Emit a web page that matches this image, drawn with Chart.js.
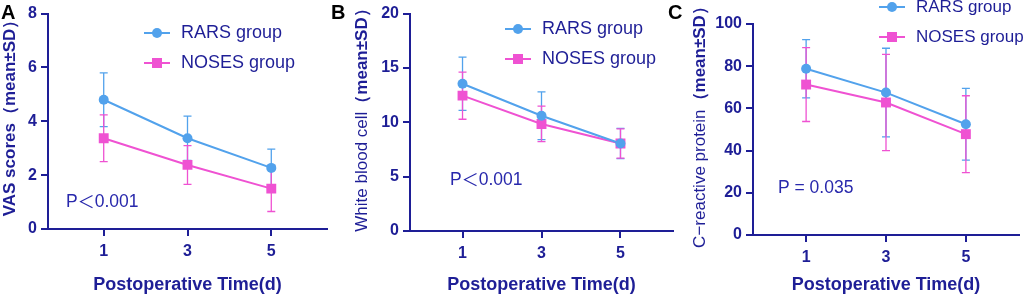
<!DOCTYPE html>
<html>
<head>
<meta charset="utf-8">
<script src="https://cdn.jsdelivr.net/npm/chart.js@4.4.1/dist/chart.umd.min.js"></script>
<style>
  body { margin: 0; background: #fff; width: 1026px; height: 300px; overflow: hidden; position: relative; }
  canvas.panel { position: absolute; top: 0; }
  .tag { position: absolute; top: 1px; font: bold 20px "Liberation Sans", Arial, sans-serif; color: #000; }
</style>
</head>
<body>
<canvas id="chartA" class="panel" width="340" height="300" style="left:0"></canvas>
<canvas id="chartB" class="panel" width="340" height="300" style="left:340px"></canvas>
<canvas id="chartC" class="panel" width="346" height="300" style="left:680px"></canvas>
<div class="tag" style="left:1px">A</div>
<div class="tag" style="left:331px">B</div>
<div class="tag" style="left:668px">C</div>
<script>
// postoperative days
const days = [1, 3, 5];

// A: VAS scores
const vasRars = [4.8, 3.37, 2.27];
const vasRarsSd = [1.0, 0.82, 0.7];
const vasNoses = [3.37, 2.38, 1.5];
const vasNosesSd = [0.87, 0.72, 0.85];

// B: white blood cell
const wbcRars = [13.55, 10.6, 8.05];
const wbcRarsSd = [2.45, 2.2, 1.4];
const wbcNoses = [12.45, 9.85, 8.05];
const wbcNosesSd = [2.17, 1.63, 1.35];

// C: C-reactive protein
const crpRars = [78.8, 67.5, 52.5];
const crpRarsSd = [13.8, 21, 17];
const crpNoses = [71.3, 62.8, 47.8];
const crpNosesSd = [17.5, 22.8, 18.2];

const BLUE = "#52a2ec";
const PINK = "#ef52d2";
const NAVY = "#1e1e96";
const FONT = '"Liberation Sans", Arial, sans-serif';
const CJK = '"Noto Sans CJK SC", sans-serif';

// draws pieces of text one after another, each with its own font
function drawParts(ctx, parts, x, y, centered) {
  let total = 0;
  const widths = parts.map((p) => { ctx.font = p.font; const w = ctx.measureText(p.text).width; total += w; return w; });
  let cx = centered ? x - total / 2 : x;
  ctx.textAlign = "left";
  parts.forEach((p, i) => { ctx.font = p.font; ctx.fillText(p.text, cx, y); cx += widths[i]; });
}

const extras = {
  id: "panelExtras",
  beforeDatasetsDraw(chart) {
    const ctx = chart.ctx;
    const y = chart.scales.y;
    chart.data.datasets.forEach((ds, di) => {
      const meta = chart.getDatasetMeta(di);
      ctx.save();
      ctx.strokeStyle = ds.borderColor;
      ctx.lineWidth = 1.3;
      meta.data.forEach((pt, i) => {
        const v = ds.data[i].y, sd = ds.sd[i];
        const top = y.getPixelForValue(v + sd);
        const bot = y.getPixelForValue(v - sd);
        ctx.beginPath();
        ctx.moveTo(pt.x, top); ctx.lineTo(pt.x, bot);
        ctx.moveTo(pt.x - 4, top); ctx.lineTo(pt.x + 4, top);
        ctx.moveTo(pt.x - 4, bot); ctx.lineTo(pt.x + 4, bot);
        ctx.stroke();
      });
      ctx.restore();
    });
  },
  afterDraw(chart, args, o) {
    const ctx = chart.ctx;
    ctx.save();
    ctx.fillStyle = NAVY;
    ctx.textBaseline = "middle";

    // y title, mixed weights
    ctx.save();
    ctx.translate(o.yTitleX, o.yTitleY);
    ctx.rotate(-Math.PI / 2);
    drawParts(ctx, o.yTitle.map((p) => ({ text: p.text, font: `${p.bold ? "bold " : ""}17px ${FONT}` })), 0, 0, true);
    ctx.restore();

    // legend
    chart.data.datasets.forEach((ds, i) => {
      const ly = o.legendY[i];
      ctx.strokeStyle = ds.borderColor;
      ctx.fillStyle = ds.borderColor;
      ctx.lineWidth = 2;
      ctx.beginPath();
      ctx.moveTo(o.legendX, ly); ctx.lineTo(o.legendX + 26, ly);
      ctx.stroke();
      const mx = o.legendX + 13;
      if (ds.pointStyle === "rect") {
        ctx.fillRect(mx - 5, ly - 5, 10, 10);
      } else {
        ctx.beginPath(); ctx.arc(mx, ly, 5, 0, Math.PI * 2); ctx.fill();
      }
      ctx.fillStyle = NAVY;
      ctx.font = `${o.legendSize}px ${FONT}`;
      ctx.textAlign = "left";
      ctx.fillText(ds.label, o.legendX + 37, ly);
    });

    // p value
    ctx.fillStyle = "#2828ac";
    drawParts(ctx, o.pText.map((t) => ({ text: t, font: t === "＜" ? `17px ${CJK}` : `17.5px ${FONT}` })), o.pX, o.pY, false);
    ctx.restore();
  },
};

function makeChart(id, p) {
  const tickFont = { family: FONT, size: 16, weight: "bold" };
  return new Chart(document.getElementById(id), {
    type: "line",
    data: {
      datasets: [
        {
          label: "RARS group",
          data: days.map((d, i) => ({ x: d, y: p.rars[i] })),
          sd: p.rarsSd,
          borderColor: BLUE,
          backgroundColor: BLUE,
          pointStyle: "circle",
          pointRadius: 5,
          pointBorderWidth: 0,
          borderWidth: 2,
        },
        {
          label: "NOSES group",
          data: days.map((d, i) => ({ x: d, y: p.noses[i] })),
          sd: p.nosesSd,
          borderColor: PINK,
          backgroundColor: PINK,
          pointStyle: "rect",
          pointRadius: 7,
          pointBorderWidth: 0,
          borderWidth: 2,
        },
      ],
    },
    options: {
      responsive: false,
      animation: false,
      devicePixelRatio: 1,
      layout: { padding: { top: p.top, right: p.right, left: 0, bottom: 0 } },
      plugins: { legend: { display: false }, tooltip: { enabled: false }, panelExtras: p.extras },
      scales: {
        x: {
          type: "linear",
          min: -0.33,
          max: 6.33,
          afterBuildTicks: (s) => { s.ticks = days.map((v) => ({ value: v })); },
          afterFit: (s) => { s.height = 300 - p.bottom; },
          grid: { drawOnChartArea: false, drawTicks: true, tickLength: 7, color: NAVY, lineWidth: 2 },
          border: { color: NAVY, width: 2 },
          ticks: { color: NAVY, font: tickFont, padding: 6 },
          title: {
            display: true,
            text: "Postoperative Time(d)",
            color: NAVY,
            font: { family: FONT, size: 18, weight: "bold" },
            padding: { top: 0, bottom: 4 },
          },
        },
        y: {
          min: 0,
          max: p.yMax,
          afterFit: (s) => { s.width = p.left; },
          grid: { drawOnChartArea: false, drawTicks: true, tickLength: 7, color: NAVY, lineWidth: 2 },
          border: { color: NAVY, width: 2 },
          ticks: { stepSize: p.yStep, color: NAVY, font: tickFont, padding: 4 },
        },
      },
    },
    plugins: [extras],
  });
}

makeChart("chartA", {
  rars: vasRars, rarsSd: vasRarsSd, noses: vasNoses, nosesSd: vasNosesSd,
  yMax: 8, yStep: 2, top: 7, bottom: 229, left: 48, right: 13,
  extras: {
    yTitle: [{ text: "VAS scores（mean±SD）", bold: true }],
    yTitleX: 10, yTitleY: 114,
    legendX: 144, legendY: [33, 63], legendSize: 18,
    pText: ["P", "＜", "0.001"], pX: 66, pY: 202,
  },
});

makeChart("chartB", {
  rars: wbcRars, rarsSd: wbcRarsSd, noses: wbcNoses, nosesSd: wbcNosesSd,
  yMax: 20, yStep: 5, top: 7, bottom: 231, left: 70, right: 1,
  extras: {
    yTitle: [{ text: "White blood cell", bold: false }, { text: "（mean±SD）", bold: true }],
    yTitleX: 22, yTitleY: 116,
    legendX: 165, legendY: [29, 59], legendSize: 18,
    pText: ["P", "＜", "0.001"], pX: 110, pY: 180,
  },
});

makeChart("chartC", {
  rars: crpRars, rarsSd: crpRarsSd, noses: crpNoses, nosesSd: crpNosesSd,
  yMax: 100, yStep: 20, top: 24, bottom: 235, left: 73, right: 2,
  extras: {
    yTitle: [{ text: "C−reactive protein", bold: false }, { text: "（mean±SD）", bold: true }],
    yTitleX: 20, yTitleY: 123,
    legendX: 199, legendY: [7, 37], legendSize: 17,
    pText: ["P = 0.035"], pX: 98, pY: 188,
  },
});
</script>
</body>
</html>
